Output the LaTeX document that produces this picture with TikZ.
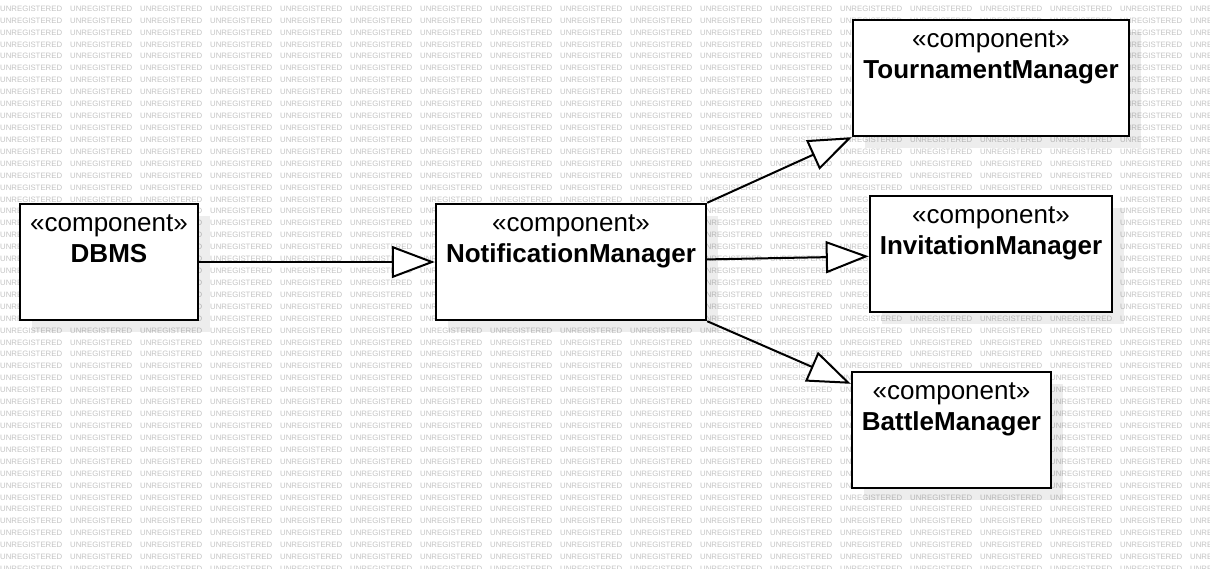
\documentclass[tikz,border=0pt]{standalone}
\usepackage{fontspec}
\setmainfont{Liberation Sans}
\usetikzlibrary{arrows.meta,calc,shadows}
\definecolor{wmgray}{RGB}{196,196,196}
\begin{document}
\begin{tikzpicture}[x=1pt,y=-1pt,
  wm/.style={inner sep=0pt, anchor=base west, text=wmgray, font=\fontsize{7.8}{8}\selectfont},
  box/.style={draw=black, line width=2.4pt, fill=white, inner sep=0pt,
    general shadow={shadow xshift=12pt, shadow yshift=-12pt, fill=black, opacity=0.07}},
  ster/.style={inner sep=0pt, anchor=base, font=\fontsize{26}{30}\selectfont},
  cname/.style={inner sep=0pt, anchor=base, font=\fontsize{26}{30}\selectfont\bfseries},
  gen/.style={line width=2pt, -{Triangle[fill=white, length=43pt, width=32pt, line width=2pt]}}
]
\useasboundingbox (0,0) rectangle (1210,568);
\fill[white] (0,0) rectangle (1210,568);
% watermark
\begin{scope}
\clip (0,0) rectangle (1210,568);
\foreach \r in {0,...,47} {
  \foreach \c in {0,...,17} {
    \node[wm] (wm-\r-\c) at (\c*70, 11.3+\r*11.92) {UNREGISTERED};
  }
}
\end{scope}
% boxes
\node[box, minimum width=178pt, minimum height=116pt] (db) at (109,262) {};
\node[box, minimum width=270pt, minimum height=116pt] (nm) at (571,262) {};
\node[box, minimum width=276pt, minimum height=116pt] (tm) at (991,78) {};
\node[box, minimum width=242pt, minimum height=116pt] (im) at (991,254) {};
\node[box, minimum width=199pt, minimum height=116pt] (bm) at (951.5,430) {};
% texts
\node[ster] (db-s) at ($(db.north)+(0,29)$) {«component»};
\node[cname] (db-n) at ($(db.north)+(0,60)$) {DBMS};
\node[ster] (nm-s) at ($(nm.north)+(0,29)$) {«component»};
\node[cname] (nm-n) at ($(nm.north)+(0,60)$) {NotificationManager};
\node[ster] (tm-s) at ($(tm.north)+(0,29)$) {«component»};
\node[cname] (tm-n) at ($(tm.north)+(0,60)$) {TournamentManager};
\node[ster] (im-s) at ($(im.north)+(0,29)$) {«component»};
\node[cname] (im-n) at ($(im.north)+(0,60)$) {InvitationManager};
\node[ster] (bm-s) at ($(bm.north)+(0,29)$) {«component»};
\node[cname] (bm-n) at ($(bm.north)+(0,60)$) {BattleManager};
% connectors
\draw[gen] (db) -- (nm);
\draw[gen] (nm) -- (im);
\draw[gen] (nm.north east) -- (tm.south west);
\draw[gen] (nm.south east) -- ([yshift=-13pt]bm.north west);
\end{tikzpicture}
\end{document}
